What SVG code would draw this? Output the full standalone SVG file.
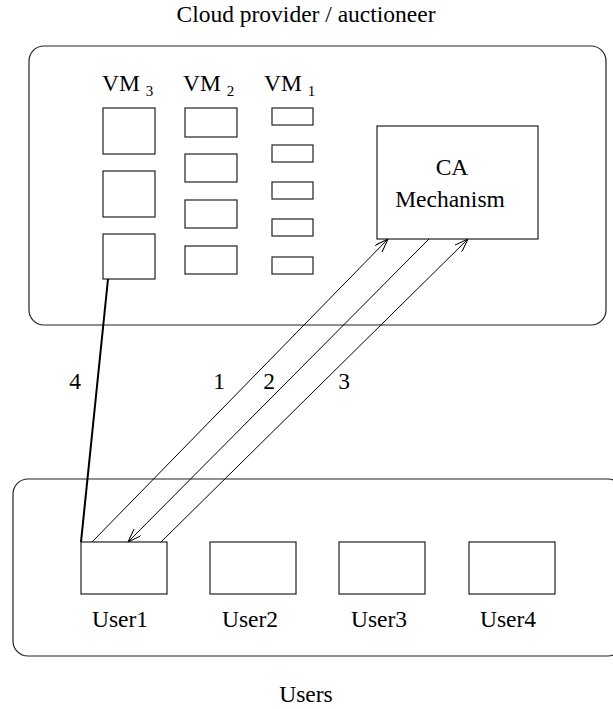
<svg xmlns="http://www.w3.org/2000/svg" width="613" height="709" viewBox="0 0 613 709">
<defs>
<style>
.t{font-family:"Liberation Serif","Times New Roman",serif;font-size:23.5px;fill:#000}
.sub{font-family:"Liberation Serif","Times New Roman",serif;font-size:15px;fill:#000}
.box{fill:#fff;stroke:#222;stroke-width:1.2}
.cont{fill:none;stroke:#222;stroke-width:1.2}
.con{stroke:#000;stroke-width:1;fill:none}
.thick{stroke:#000;stroke-width:2;fill:none}
</style>
<marker id="ah" viewBox="0 0 14 10" refX="14" refY="5" markerWidth="14" markerHeight="10" markerUnits="userSpaceOnUse" orient="auto">
<path d="M0,0 L14,5 L0,10" fill="none" stroke="#000" stroke-width="1"/>
</marker>
</defs>
<rect width="613" height="709" fill="#fff"/>
<text class="t" x="306" y="22" text-anchor="middle">Cloud provider / auctioneer</text>
<g id="provider">
<rect class="cont" x="29" y="46" width="577" height="279" rx="15"/>
</g>
<g id="vm3">
<text class="t" x="102" y="91">VM <tspan class="sub" dy="5">3</tspan></text>
<rect class="box" x="103" y="108" width="52" height="46"/>
<rect class="box" x="103" y="171" width="52" height="46"/>
<rect class="box" x="103" y="234" width="52" height="45"/>
</g>
<g id="vm2">
<text class="t" x="183" y="91">VM <tspan class="sub" dy="5">2</tspan></text>
<rect class="box" x="185" y="108" width="52" height="29"/>
<rect class="box" x="185" y="154" width="52" height="28"/>
<rect class="box" x="185" y="200" width="52" height="28"/>
<rect class="box" x="185" y="246" width="52" height="28"/>
</g>
<g id="vm1">
<text class="t" x="264" y="91">VM <tspan class="sub" dy="5">1</tspan></text>
<rect class="box" x="272" y="108" width="41" height="17"/>
<rect class="box" x="272" y="145" width="41" height="17"/>
<rect class="box" x="272" y="182" width="41" height="17"/>
<rect class="box" x="272" y="219" width="41" height="17"/>
<rect class="box" x="272" y="257" width="41" height="17"/>
</g>
<g id="ca">
<rect class="box" x="377" y="126" width="161" height="113"/>
<text class="t" x="452" y="175" text-anchor="middle">CA</text>
<text class="t" x="450" y="207" text-anchor="middle">Mechanism</text>
</g>
<g id="users">
<rect class="cont" x="13" y="479" width="610" height="177" rx="15"/>
</g>
<g id="user1">
<rect class="box" x="81" y="542" width="86" height="52"/>
<text class="t" x="120" y="627" text-anchor="middle">User1</text>
</g>
<g id="user2">
<rect class="box" x="210" y="542" width="86" height="52"/>
<text class="t" x="250" y="627" text-anchor="middle">User2</text>
</g>
<g id="user3">
<rect class="box" x="339" y="542" width="86" height="52"/>
<text class="t" x="379" y="627" text-anchor="middle">User3</text>
</g>
<g id="user4">
<rect class="box" x="469" y="542" width="86" height="52"/>
<text class="t" x="508" y="627" text-anchor="middle">User4</text>
</g>
<text class="t" x="306" y="702" text-anchor="middle">Users</text>
<g id="connectors">
<line class="thick" x1="108" y1="279" x2="81" y2="542"/>
<line class="con" x1="92" y1="542" x2="388" y2="239" marker-end="url(#ah)"/>
<line class="con" x1="429" y1="239" x2="128" y2="542" marker-end="url(#ah)"/>
<line class="con" x1="161" y1="542" x2="468" y2="239" marker-end="url(#ah)"/>
<text class="t" x="75" y="389" text-anchor="middle">4</text>
<text class="t" x="219" y="389" text-anchor="middle">1</text>
<text class="t" x="269" y="389" text-anchor="middle">2</text>
<text class="t" x="344" y="389" text-anchor="middle">3</text>
</g>
</svg>
